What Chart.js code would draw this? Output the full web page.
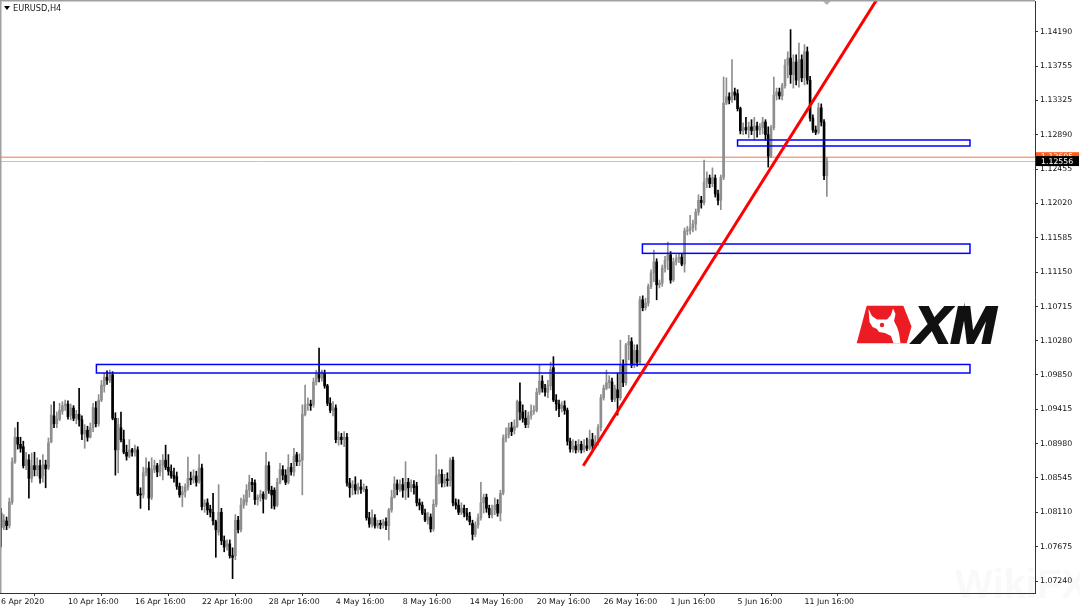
<!DOCTYPE html>
<html><head><meta charset="utf-8">
<script src="https://cdn.jsdelivr.net/npm/chart.js@4.4.1/dist/chart.umd.min.js"></script>
<style>html,body{margin:0;padding:0;background:#fff;}canvas{display:block;}</style>
</head><body>
<canvas id="c" width="1080" height="608"></canvas>
<script>
const symbolTitle = 'EURUSD,H4';
const opens = [1.0810,1.0792,1.0800,1.0794,1.0824,1.0875,1.0906,1.0897,1.0894,1.0870,
1.0877,1.0854,1.0870,1.0865,1.0870,1.0857,1.0871,1.0867,1.0900,1.0933,
1.0923,1.0929,1.0939,1.0946,1.0948,1.0934,1.0943,1.0930,1.0935,1.0928,
1.0910,1.0915,1.0906,1.0918,1.0943,1.0923,1.0953,1.0971,1.0982,1.0978,
1.0985,1.0930,1.0890,1.0918,1.0903,1.0887,1.0882,1.0890,1.0887,1.0890,
1.0834,1.0833,1.0861,1.0867,1.0830,1.0865,1.0870,1.0862,1.0871,1.0877,
1.0868,1.0863,1.0858,1.0856,1.0844,1.0833,1.0837,1.0843,1.0854,1.0852,
1.0857,1.0851,1.0867,1.0819,1.0823,1.0815,1.0811,1.0799,1.0786,1.0811,
1.0775,1.0768,1.0771,1.0756,1.0756,1.0801,1.0789,1.0820,1.0824,1.0839,
1.0849,1.0848,1.0827,1.0830,1.0834,1.0829,1.0870,1.0839,1.0839,1.0820,
1.0849,1.0865,1.0858,1.0849,1.0868,1.0862,1.0884,1.0875,1.0877,1.0935,
1.0947,1.0948,1.0947,1.0976,1.0986,1.0981,1.0987,1.0971,1.0949,1.0940,
1.0943,1.0903,1.0906,1.0903,1.0906,1.0848,1.0842,1.0846,1.0839,1.0843,
1.0840,1.0840,1.0804,1.0796,1.0804,1.0794,1.0797,1.0795,1.0799,1.0794,
1.0814,1.0830,1.0847,1.0840,1.0846,1.0839,1.0849,1.0842,1.0846,1.0844,
1.0823,1.0820,1.0810,1.0801,1.0805,1.0790,1.0821,1.0857,1.0859,1.0848,
1.0853,1.0851,1.0877,1.0823,1.0820,1.0811,1.0816,1.0810,1.0806,1.0797,
1.0783,1.0795,1.0804,1.0823,1.0830,1.0816,1.0808,1.0814,1.0821,1.0810,
1.0835,1.0905,1.0909,1.0918,1.0915,1.0920,1.0951,1.0938,1.0930,1.0922,
1.0933,1.0939,1.0940,1.0963,1.0977,1.0968,1.0963,1.0971,1.0994,1.0953,
1.0948,1.0943,1.0946,1.0940,1.0901,1.0891,1.0895,1.0890,1.0897,1.0890,
1.0895,1.0892,1.0903,1.0895,1.0900,1.0918,1.0956,1.0968,1.0975,1.0976,
1.0954,1.0966,1.0956,1.0997,1.0975,1.1023,1.1027,1.0997,1.1016,1.1001,
1.1080,1.1070,1.1076,1.1097,1.1114,1.1128,1.1099,1.1101,1.1120,1.1130,
1.1137,1.1105,1.1128,1.1132,1.1134,1.1125,1.1167,1.1168,1.1171,1.1176,
1.1191,1.1206,1.1203,1.1229,1.1234,1.1227,1.1234,1.1214,1.1206,1.1235,
1.1329,1.1337,1.1333,1.1343,1.1341,1.1322,1.1294,1.1298,1.1295,1.1299,
1.1294,1.1300,1.1295,1.1298,1.1305,1.1289,1.1262,1.1298,1.1339,1.1343,
1.1338,1.1351,1.1377,1.1386,1.1365,1.1381,1.1358,1.1384,1.1361,1.1394,
1.1358,1.1310,1.1295,1.1292,1.1323,1.1305,1.1237];
const highs = [1.0816,1.0808,1.0805,1.0829,1.0880,1.0918,1.0925,1.0906,1.0901,1.0887,
1.0884,1.0886,1.0887,1.0880,1.0877,1.0884,1.0877,1.0905,1.0947,1.0951,
1.0938,1.0949,1.0951,1.0953,1.0952,1.0948,1.0946,1.0940,1.0968,1.0933,
1.0922,1.0920,1.0924,1.0949,1.0951,1.0960,1.0978,1.0987,1.0990,1.0991,
1.0989,1.0937,1.0930,1.0938,1.0915,1.0896,1.0903,1.0892,1.0896,1.0894,
1.0842,1.0868,1.0880,1.0875,1.0880,1.0877,1.0873,1.0877,1.0884,1.0896,
1.0884,1.0871,1.0867,1.0862,1.0848,1.0844,1.0847,1.0881,1.0862,1.0865,
1.0863,1.0884,1.0872,1.0827,1.0828,1.0820,1.0835,1.0801,1.0846,1.0816,
1.0781,1.0776,1.0776,1.0766,1.0808,1.0806,1.0829,1.0833,1.0846,1.0858,
1.0854,1.0852,1.0833,1.0839,1.0837,1.0887,1.0875,1.0844,1.0842,1.0854,
1.0873,1.0870,1.0865,1.0884,1.0873,1.0892,1.0887,1.0885,1.0947,1.0972,
1.0956,1.0953,1.0981,1.0991,1.1019,1.0991,1.0991,1.0973,1.0956,1.0951,
1.0947,1.0913,1.0911,1.0913,1.0911,1.0854,1.0851,1.0856,1.0848,1.0852,
1.0847,1.0844,1.0811,1.0814,1.0808,1.0801,1.0801,1.0802,1.0804,1.0816,
1.0839,1.0856,1.0852,1.0852,1.0854,1.0875,1.0854,1.0852,1.0851,1.0849,
1.0828,1.0824,1.0815,1.0811,1.0809,1.0827,1.0884,1.0865,1.0865,1.0859,
1.0861,1.0880,1.0881,1.0828,1.0827,1.0823,1.0820,1.0816,1.0811,1.0801,
1.0799,1.0809,1.0849,1.0834,1.0834,1.0820,1.0820,1.0829,1.0827,1.0839,
1.0909,1.0918,1.0924,1.0925,1.0928,1.0953,1.0975,1.0947,1.0940,1.0938,
1.0947,1.0946,1.0968,1.0997,1.0984,1.0973,1.0978,1.1001,1.1008,1.0960,
1.0953,1.0951,1.0952,1.0943,1.0905,1.0903,1.0901,1.0903,1.0901,1.0903,
1.0905,1.0915,1.0911,1.0908,1.0922,1.0960,1.0972,1.0991,1.0984,1.0981,
1.0972,1.0987,1.1029,1.1004,1.1025,1.1035,1.1032,1.1023,1.1023,1.1084,
1.1085,1.1082,1.1100,1.1118,1.1143,1.1132,1.1105,1.1124,1.1135,1.1153,
1.1141,1.1133,1.1137,1.1138,1.1138,1.1171,1.1173,1.1187,1.1181,1.1195,
1.1213,1.1211,1.1257,1.1242,1.1238,1.1247,1.1238,1.1219,1.1238,1.1362,
1.1361,1.1342,1.1384,1.1348,1.1346,1.1324,1.1304,1.1311,1.1305,1.1308,
1.1311,1.1305,1.1303,1.1311,1.1308,1.1299,1.1301,1.1362,1.1348,1.1348,
1.1354,1.1384,1.1394,1.1422,1.1390,1.1390,1.1405,1.1390,1.1403,1.1400,
1.1363,1.1314,1.1300,1.1329,1.1328,1.1308,1.1260];
const lows = [1.0767,1.0789,1.0789,1.0791,1.0821,1.0873,1.0891,1.0887,1.0867,1.0865,
1.0829,1.0849,1.0857,1.0857,1.0848,1.0849,1.0842,1.0865,1.0899,1.0918,
1.0918,1.0927,1.0935,1.0940,1.0929,1.0928,1.0927,1.0923,1.0920,1.0903,
1.0892,1.0901,1.0905,1.0913,1.0919,1.0920,1.0951,1.0963,1.0973,1.0975,
1.0928,1.0858,1.0861,1.0900,1.0885,1.0877,1.0880,1.0882,1.0882,1.0832,
1.0816,1.0829,1.0857,1.0814,1.0827,1.0861,1.0856,1.0857,1.0852,1.0865,
1.0858,1.0854,1.0849,1.0840,1.0830,1.0818,1.0830,1.0839,1.0846,1.0848,
1.0844,1.0848,1.0814,1.0811,1.0808,1.0805,1.0795,1.0754,1.0782,1.0770,
1.0761,1.0763,1.0753,1.0727,1.0751,1.0785,1.0786,1.0816,1.0820,1.0830,
1.0837,1.0821,1.0820,1.0825,1.0810,1.0827,1.0835,1.0816,1.0815,1.0818,
1.0847,1.0852,1.0846,1.0847,1.0858,1.0857,1.0870,1.0870,1.0833,1.0933,
1.0940,1.0940,1.0944,1.0972,1.0976,1.0977,1.0968,1.0946,1.0937,1.0933,
1.0899,1.0896,1.0897,1.0894,1.0844,1.0830,1.0833,1.0834,1.0834,1.0835,
1.0837,1.0801,1.0792,1.0792,1.0791,1.0791,1.0790,1.0791,1.0789,1.0776,
1.0811,1.0829,1.0833,1.0837,1.0830,1.0827,1.0830,1.0837,1.0834,1.0819,
1.0814,1.0808,1.0799,1.0796,1.0786,1.0787,1.0818,1.0847,1.0843,1.0843,
1.0844,1.0844,1.0819,1.0815,1.0808,1.0808,1.0805,1.0801,1.0795,1.0776,
1.0780,1.0791,1.0801,1.0810,1.0811,1.0804,1.0804,1.0808,1.0806,1.0800,
1.0833,1.0900,1.0905,1.0908,1.0910,1.0918,1.0928,1.0925,1.0918,1.0918,
1.0929,1.0935,1.0938,1.0960,1.0963,1.0958,1.0956,1.0966,1.0951,1.0940,
1.0932,1.0938,1.0935,1.0896,1.0887,1.0887,1.0886,1.0887,1.0886,1.0887,
1.0889,1.0890,1.0890,1.0892,1.0896,1.0914,1.0953,1.0966,1.0968,1.0951,
1.0951,1.0934,1.0953,1.0970,1.0972,1.1004,1.0994,1.0994,1.0996,1.0999,
1.1066,1.1067,1.1072,1.1094,1.1103,1.1080,1.1095,1.1097,1.1115,1.1118,
1.1101,1.1103,1.1124,1.1127,1.1123,1.1115,1.1162,1.1163,1.1166,1.1168,
1.1187,1.1196,1.1200,1.1222,1.1222,1.1223,1.1210,1.1200,1.1194,1.1232,
1.1327,1.1328,1.1330,1.1333,1.1319,1.1290,1.1289,1.1290,1.1285,1.1289,
1.1282,1.1286,1.1289,1.1290,1.1282,1.1248,1.1260,1.1295,1.1333,1.1334,
1.1333,1.1348,1.1361,1.1354,1.1348,1.1352,1.1349,1.1356,1.1352,1.1353,
1.1306,1.1292,1.1289,1.1290,1.1300,1.1232,1.1211];
const closes = [1.0792,1.0801,1.0794,1.0824,1.0875,1.0906,1.0897,1.0892,1.0870,1.0878,
1.0854,1.0870,1.0865,1.0870,1.0854,1.0871,1.0866,1.0899,1.0934,1.0923,
1.0929,1.0940,1.0946,1.0948,1.0932,1.0943,1.0930,1.0935,1.0928,1.0910,
1.0915,1.0906,1.0918,1.0944,1.0923,1.0953,1.0972,1.0982,1.0978,1.0986,
1.0930,1.0890,1.0922,1.0903,1.0887,1.0882,1.0890,1.0887,1.0892,1.0834,
1.0833,1.0861,1.0867,1.0829,1.0865,1.0870,1.0862,1.0872,1.0877,1.0868,
1.0863,1.0857,1.0854,1.0844,1.0833,1.0837,1.0843,1.0854,1.0852,1.0857,
1.0849,1.0867,1.0818,1.0823,1.0814,1.0811,1.0800,1.0789,1.0811,1.0775,
1.0767,1.0771,1.0756,1.0754,1.0801,1.0789,1.0820,1.0827,1.0839,1.0849,
1.0846,1.0827,1.0830,1.0834,1.0828,1.0870,1.0839,1.0833,1.0819,1.0849,
1.0865,1.0858,1.0849,1.0868,1.0862,1.0882,1.0875,1.0877,1.0935,1.0947,
1.0948,1.0946,1.0976,1.0986,1.0981,1.0989,1.0971,1.0949,1.0940,1.0944,
1.0903,1.0906,1.0903,1.0906,1.0848,1.0842,1.0846,1.0839,1.0843,1.0840,
1.0842,1.0804,1.0796,1.0804,1.0794,1.0797,1.0795,1.0799,1.0794,1.0814,
1.0830,1.0847,1.0840,1.0846,1.0839,1.0849,1.0842,1.0846,1.0842,1.0823,
1.0820,1.0810,1.0801,1.0805,1.0790,1.0821,1.0857,1.0859,1.0848,1.0853,
1.0851,1.0877,1.0823,1.0820,1.0811,1.0816,1.0810,1.0806,1.0799,1.0783,
1.0795,1.0804,1.0823,1.0830,1.0816,1.0808,1.0814,1.0820,1.0810,1.0835,
1.0905,1.0909,1.0918,1.0913,1.0920,1.0951,1.0938,1.0930,1.0922,1.0933,
1.0939,1.0940,1.0963,1.0977,1.0968,1.0963,1.0972,1.0992,1.0953,1.0948,
1.0942,1.0946,1.0940,1.0901,1.0891,1.0895,1.0890,1.0897,1.0890,1.0895,
1.0892,1.0903,1.0895,1.0900,1.0918,1.0956,1.0968,1.0975,1.0978,1.0954,
1.0968,1.0956,1.0997,1.0975,1.1023,1.1027,1.0997,1.1016,1.1001,1.1080,
1.1070,1.1076,1.1097,1.1114,1.1128,1.1099,1.1101,1.1120,1.1130,1.1137,
1.1105,1.1128,1.1132,1.1134,1.1125,1.1167,1.1168,1.1171,1.1176,1.1191,
1.1206,1.1203,1.1229,1.1234,1.1227,1.1235,1.1214,1.1206,1.1235,1.1329,
1.1337,1.1333,1.1343,1.1339,1.1322,1.1294,1.1298,1.1295,1.1299,1.1294,
1.1300,1.1295,1.1298,1.1305,1.1289,1.1262,1.1298,1.1339,1.1343,1.1338,
1.1351,1.1377,1.1386,1.1365,1.1381,1.1358,1.1384,1.1361,1.1394,1.1358,
1.1310,1.1295,1.1292,1.1323,1.1305,1.1237,1.12556];

const xTickIndex = [0,24,48,72,96,120,144,168,192,216,240,264,288];
const xTickLabels = ['6 Apr 2020','10 Apr 16:00','16 Apr 16:00','22 Apr 16:00','28 Apr 16:00','4 May 16:00','8 May 16:00','14 May 16:00','20 May 16:00','26 May 16:00','1 Jun 16:00','5 Jun 16:00','11 Jun 16:00'];
const yTickValues = [1.14190,1.13755,1.13325,1.12890,1.12455,1.12020,1.11585,1.11150,1.10715,1.10280,1.09850,1.09415,1.08980,1.08545,1.08110,1.07675,1.07240];

const zoneStart = [34.2, 229.9, 264.0];
const zoneEnd = [347.3, 347.3, 347.3];
const zoneTop = [1.09981, 1.11506, 1.12823];
const zoneBottom = [1.09873, 1.11388, 1.12747];
const trendFrom = [208.7, 1.08699];
const trendTo = [304.3, 1.14061];
const bidPrice = 1.12556;
const askPrice = 1.12605;

const UP = '#8e8e8e', DOWN = '#000000';
const bodyData = opens.map((o, i) => ({x: i, y: [o, closes[i]]}));
const wickData = lows.map((l, i) => ({x: i, y: [l, highs[i]]}));
const colors = opens.map((o, i) => closes[i] >= o ? UP : DOWN);

const FONT = '"DejaVu Sans", sans-serif';

function noPad(s) { s.paddingLeft = 0; s.paddingRight = 0; s.paddingTop = 0; s.paddingBottom = 0; }

const overlay = {
  id: 'overlay',
  beforeDatasetsDraw(chart) {
    const {ctx, chartArea: a, scales: {y}} = chart;
    ctx.save();
    const ya = y.getPixelForValue(askPrice);
    ctx.strokeStyle = '#f5a286'; ctx.lineWidth = 1.5;
    ctx.beginPath(); ctx.moveTo(a.left, ya); ctx.lineTo(a.right, ya); ctx.stroke();
    const yb = Math.round(y.getPixelForValue(bidPrice)) + 0.5;
    ctx.strokeStyle = '#c4c4c4'; ctx.lineWidth = 1;
    ctx.beginPath(); ctx.moveTo(a.left, yb); ctx.lineTo(a.right, yb); ctx.stroke();
    ctx.restore();
  },
  afterDatasetsDraw(chart) {
    const {ctx, chartArea: a, scales: {x, y}} = chart;
    ctx.save();
    ctx.beginPath(); ctx.rect(a.left, a.top - 1, a.right - a.left, a.bottom - a.top + 1); ctx.clip();
    ctx.strokeStyle = '#0000ff'; ctx.lineWidth = 1.5;
    for (let k = 0; k < zoneStart.length; k++) {
      const x1 = x.getPixelForValue(zoneStart[k]), x2 = x.getPixelForValue(zoneEnd[k]);
      const y1 = y.getPixelForValue(zoneTop[k]), y2 = y.getPixelForValue(zoneBottom[k]);
      ctx.strokeRect(x1, y1, x2 - x1, y2 - y1);
    }
    const tx1 = x.getPixelForValue(trendFrom[0]), ty1 = y.getPixelForValue(trendFrom[1]);
    const tx2 = x.getPixelForValue(trendTo[0]), ty2 = y.getPixelForValue(trendTo[1]);
    const yEnd = a.top - 10;
    const t = (yEnd - ty1) / (ty2 - ty1);
    ctx.strokeStyle = '#ff0000'; ctx.lineWidth = 3;
    ctx.beginPath(); ctx.moveTo(tx1, ty1); ctx.lineTo(tx1 + (tx2 - tx1) * t, yEnd); ctx.stroke();
    ctx.restore();
  },
  afterDraw(chart) {
    const {ctx, chartArea: a, scales: {x, y}} = chart;
    ctx.save();
    ctx.fillStyle = '#a0a0a0';
    ctx.fillRect(0, 0, a.right, 1.5);
    ctx.fillRect(0, 0, 1.5, a.bottom);
    const mx = x.getPixelForValue(opens.length - 1);
    ctx.fillStyle = '#b0b0b0';
    ctx.beginPath(); ctx.moveTo(mx - 4, 1); ctx.lineTo(mx + 4, 1); ctx.lineTo(mx, 5); ctx.closePath(); ctx.fill();
    ctx.fillStyle = '#000';
    ctx.beginPath(); ctx.moveTo(4, 6); ctx.lineTo(10, 6); ctx.lineTo(7, 10); ctx.closePath(); ctx.fill();
    ctx.font = '8.2px ' + FONT; ctx.textBaseline = 'middle'; ctx.textAlign = 'left';
    ctx.fillStyle = '#1a1a1a';
    ctx.fillText(symbolTitle, 13, 8.5);
    const ya = y.getPixelForValue(askPrice), yb = y.getPixelForValue(bidPrice);
    ctx.fillStyle = '#ff5a1a';
    ctx.fillRect(a.right + 1, ya - 5, 43, 10);
    ctx.fillStyle = '#ffffff'; ctx.font = '7.8px ' + FONT;
    ctx.fillText(askPrice.toFixed(5), a.right + 6, ya);
    ctx.fillStyle = '#000000';
    ctx.fillRect(a.right + 1, yb - 5, 43, 10);
    ctx.fillStyle = '#ffffff';
    ctx.fillText(bidPrice.toFixed(5), a.right + 6, yb + 0.5);
    // XM logo
    ctx.fillStyle = '#ec1c24';
    ctx.beginPath();
    ctx.moveTo(866.7, 305.7); ctx.lineTo(903.3, 305.7); ctx.lineTo(911.5, 326.5); ctx.lineTo(906.7, 343.3); ctx.lineTo(856.7, 343.3); ctx.closePath(); ctx.fill();
    ctx.fillStyle = '#ffffff';
    ctx.beginPath();
    ctx.moveTo(868.5, 309); ctx.lineTo(872, 316); ctx.lineTo(877, 319.5); ctx.lineTo(887, 319.5); ctx.lineTo(891, 315); ctx.lineTo(893, 308.5);
    ctx.lineTo(895.5, 314); ctx.lineTo(894, 321); ctx.lineTo(897, 327); ctx.lineTo(899, 333); ctx.lineTo(900.5, 343.3);
    ctx.lineTo(893.5, 343.3); ctx.lineTo(891, 336); ctx.lineTo(885, 333); ctx.lineTo(879, 332); ctx.lineTo(877, 329);
    ctx.lineTo(872.5, 327); ctx.lineTo(869.5, 322); ctx.closePath(); ctx.fill();
    ctx.fillStyle = '#ec1c24';
    ctx.beginPath(); ctx.arc(882, 325, 2.2, 0, Math.PI * 2); ctx.fill();
    ctx.fillStyle = '#111';
    ctx.strokeStyle = '#111'; ctx.lineWidth = 2;
    ctx.font = 'italic bold 52px "Liberation Sans", Arial, sans-serif';
    ctx.textBaseline = 'alphabetic';
    const w = ctx.measureText('XM').width;
    ctx.save();
    ctx.translate(914, 343);
    ctx.scale(82 / w, 1);
    ctx.fillText('XM', 0, 0); ctx.strokeText('XM', 0, 0);
    ctx.restore();
    ctx.fillStyle = 'rgba(150,150,150,0.06)';
    ctx.font = 'bold 40px "Liberation Sans", Arial, sans-serif';
    ctx.fillText('WikiFX', 955, 598);
    ctx.restore();
  }
};

new Chart(document.getElementById('c'), {
  type: 'bar',
  data: {
    datasets: [
      { data: bodyData, backgroundColor: colors, barThickness: 2, minBarLength: 1, grouped: false, borderWidth: 0 },
      { data: wickData, backgroundColor: colors, barThickness: 1, grouped: false, borderWidth: 0 }
    ]
  },
  options: {
    responsive: false, animation: false, events: [],
    devicePixelRatio: 1,
    layout: { padding: { left: 0, top: 1, right: 0, bottom: 0 } },
    plugins: { legend: { display: false }, tooltip: { enabled: false }, title: { display: false } },
    scales: {
      x: {
        type: 'linear', min: -0.358, max: 370.61, offset: false,
        afterBuildTicks: s => { s.ticks = xTickIndex.map(v => ({ value: v })); },
        afterFit: s => { s.height = 15; noPad(s); },
        grid: { drawOnChartArea: false, drawTicks: true, tickLength: 3, color: '#333' },
        border: { display: true, color: '#333', width: 1 },
        ticks: {
          autoSkip: false, maxRotation: 0, minRotation: 0, align: 'start', padding: 1,
          color: '#111', font: { family: FONT, size: 7.8 },
          callback: (v) => { const k = xTickIndex.indexOf(v); return k >= 0 ? xTickLabels[k] : ''; }
        }
      },
      y: {
        type: 'linear', position: 'right', min: 1.070881, max: 1.145824,
        afterBuildTicks: s => { s.ticks = yTickValues.map(v => ({ value: v })); },
        afterFit: s => { s.width = 45; noPad(s); },
        grid: { drawOnChartArea: false, drawTicks: true, tickLength: 3, color: '#333' },
        border: { display: true, color: '#333', width: 1 },
        ticks: {
          padding: 2, color: '#111', font: { family: FONT, size: 7.8 },
          callback: (v) => Number(v).toFixed(5)
        }
      }
    }
  },
  plugins: [overlay]
});
</script>
</body></html>
